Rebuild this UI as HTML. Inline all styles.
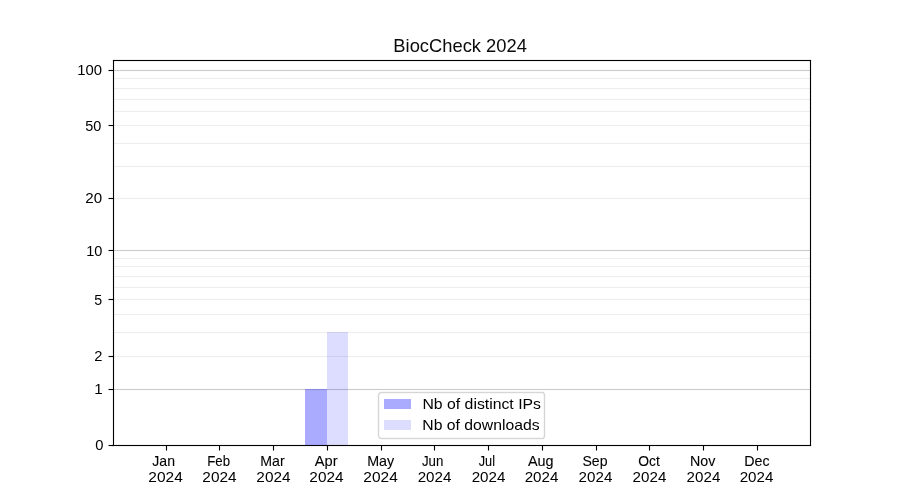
<!DOCTYPE html>
<html><head><meta charset="utf-8"><title>BiocCheck 2024</title><style>
html,body{margin:0;padding:0;background:#fff;}
#c{position:relative;width:900px;height:500px;overflow:hidden;background:#fff;}
#c div{position:absolute;}
svg{position:absolute;left:0;top:0;will-change:transform;}
text{font-family:"Liberation Sans",sans-serif;}
</style></head><body><div id="c">
<div style="left:114px;top:78px;width:696px;height:1px;background:rgb(238,238,238)"></div>
<div style="left:114px;top:77px;width:696px;height:1px;background:rgb(254,254,254)"></div>
<div style="left:114px;top:79px;width:696px;height:1px;background:rgb(254,254,254)"></div>
<div style="left:114px;top:88px;width:696px;height:1px;background:rgb(238,238,238)"></div>
<div style="left:114px;top:87px;width:696px;height:1px;background:rgb(254,254,254)"></div>
<div style="left:114px;top:89px;width:696px;height:1px;background:rgb(254,254,254)"></div>
<div style="left:114px;top:99px;width:696px;height:1px;background:rgb(238,238,238)"></div>
<div style="left:114px;top:98px;width:696px;height:1px;background:rgb(254,254,254)"></div>
<div style="left:114px;top:100px;width:696px;height:1px;background:rgb(254,254,254)"></div>
<div style="left:114px;top:111px;width:696px;height:1px;background:rgb(238,238,238)"></div>
<div style="left:114px;top:110px;width:696px;height:1px;background:rgb(254,254,254)"></div>
<div style="left:114px;top:112px;width:696px;height:1px;background:rgb(254,254,254)"></div>
<div style="left:114px;top:125px;width:696px;height:1px;background:rgb(238,238,238)"></div>
<div style="left:114px;top:124px;width:696px;height:1px;background:rgb(254,254,254)"></div>
<div style="left:114px;top:126px;width:696px;height:1px;background:rgb(254,254,254)"></div>
<div style="left:114px;top:143px;width:696px;height:1px;background:rgb(238,238,238)"></div>
<div style="left:114px;top:142px;width:696px;height:1px;background:rgb(254,254,254)"></div>
<div style="left:114px;top:144px;width:696px;height:1px;background:rgb(254,254,254)"></div>
<div style="left:114px;top:166px;width:696px;height:1px;background:rgb(238,238,238)"></div>
<div style="left:114px;top:165px;width:696px;height:1px;background:rgb(254,254,254)"></div>
<div style="left:114px;top:167px;width:696px;height:1px;background:rgb(254,254,254)"></div>
<div style="left:114px;top:198px;width:696px;height:1px;background:rgb(238,238,238)"></div>
<div style="left:114px;top:197px;width:696px;height:1px;background:rgb(254,254,254)"></div>
<div style="left:114px;top:199px;width:696px;height:1px;background:rgb(254,254,254)"></div>
<div style="left:114px;top:258px;width:696px;height:1px;background:rgb(238,238,238)"></div>
<div style="left:114px;top:257px;width:696px;height:1px;background:rgb(254,254,254)"></div>
<div style="left:114px;top:259px;width:696px;height:1px;background:rgb(254,254,254)"></div>
<div style="left:114px;top:266px;width:696px;height:1px;background:rgb(238,238,238)"></div>
<div style="left:114px;top:265px;width:696px;height:1px;background:rgb(254,254,254)"></div>
<div style="left:114px;top:267px;width:696px;height:1px;background:rgb(254,254,254)"></div>
<div style="left:114px;top:276px;width:696px;height:1px;background:rgb(238,238,238)"></div>
<div style="left:114px;top:275px;width:696px;height:1px;background:rgb(254,254,254)"></div>
<div style="left:114px;top:277px;width:696px;height:1px;background:rgb(254,254,254)"></div>
<div style="left:114px;top:287px;width:696px;height:1px;background:rgb(238,238,238)"></div>
<div style="left:114px;top:286px;width:696px;height:1px;background:rgb(254,254,254)"></div>
<div style="left:114px;top:288px;width:696px;height:1px;background:rgb(254,254,254)"></div>
<div style="left:114px;top:299px;width:696px;height:1px;background:rgb(238,238,238)"></div>
<div style="left:114px;top:298px;width:696px;height:1px;background:rgb(254,254,254)"></div>
<div style="left:114px;top:300px;width:696px;height:1px;background:rgb(254,254,254)"></div>
<div style="left:114px;top:314px;width:696px;height:1px;background:rgb(238,238,238)"></div>
<div style="left:114px;top:313px;width:696px;height:1px;background:rgb(254,254,254)"></div>
<div style="left:114px;top:315px;width:696px;height:1px;background:rgb(254,254,254)"></div>
<div style="left:114px;top:332px;width:696px;height:1px;background:rgb(238,238,238)"></div>
<div style="left:114px;top:331px;width:696px;height:1px;background:rgb(254,254,254)"></div>
<div style="left:114px;top:333px;width:696px;height:1px;background:rgb(254,254,254)"></div>
<div style="left:114px;top:356px;width:696px;height:1px;background:rgb(238,238,238)"></div>
<div style="left:114px;top:355px;width:696px;height:1px;background:rgb(254,254,254)"></div>
<div style="left:114px;top:357px;width:696px;height:1px;background:rgb(254,254,254)"></div>
<div style="left:114px;top:70px;width:696px;height:1px;background:rgb(204,204,204)"></div>
<div style="left:114px;top:69px;width:696px;height:1px;background:rgb(252,252,252)"></div>
<div style="left:114px;top:71px;width:696px;height:1px;background:rgb(252,252,252)"></div>
<div style="left:114px;top:250px;width:696px;height:1px;background:rgb(204,204,204)"></div>
<div style="left:114px;top:249px;width:696px;height:1px;background:rgb(252,252,252)"></div>
<div style="left:114px;top:251px;width:696px;height:1px;background:rgb(252,252,252)"></div>
<div style="left:114px;top:389px;width:696px;height:1px;background:rgb(204,204,204)"></div>
<div style="left:114px;top:388px;width:696px;height:1px;background:rgb(252,252,252)"></div>
<div style="left:114px;top:390px;width:696px;height:1px;background:rgb(252,252,252)"></div>
<div style="left:305px;top:389px;width:22px;height:56px;background:rgba(0,0,255,0.3333)"></div>
<div style="left:327px;top:332px;width:21px;height:113px;background:rgba(0,0,255,0.1333)"></div>
<div style="left:113px;top:60px;width:1px;height:386px;background:#000"></div>
<div style="left:112px;top:61px;width:1px;height:384px;background:rgba(0,0,0,0.055)"></div>
<div style="left:114px;top:61px;width:1px;height:384px;background:rgba(0,0,0,0.055)"></div>
<div style="left:810px;top:60px;width:1px;height:386px;background:#000"></div>
<div style="left:809px;top:61px;width:1px;height:384px;background:rgba(0,0,0,0.055)"></div>
<div style="left:811px;top:61px;width:1px;height:384px;background:rgba(0,0,0,0.055)"></div>
<div style="left:113px;top:60px;width:698px;height:1px;background:#000"></div>
<div style="left:114px;top:59px;width:696px;height:1px;background:rgba(0,0,0,0.055)"></div>
<div style="left:114px;top:61px;width:696px;height:1px;background:rgba(0,0,0,0.055)"></div>
<div style="left:113px;top:445px;width:698px;height:1px;background:#000"></div>
<div style="left:114px;top:444px;width:696px;height:1px;background:rgba(0,0,0,0.055)"></div>
<div style="left:114px;top:446px;width:696px;height:1px;background:rgba(0,0,0,0.055)"></div>
<div style="left:112px;top:59px;width:1px;height:1px;background:rgb(253,253,253)"></div>
<div style="left:113px;top:59px;width:1px;height:1px;background:rgb(227,227,227)"></div>
<div style="left:114px;top:59px;width:1px;height:1px;background:rgb(240,240,240)"></div>
<div style="left:112px;top:60px;width:1px;height:1px;background:rgb(227,227,227)"></div>
<div style="left:112px;top:61px;width:1px;height:1px;background:rgb(240,240,240)"></div>
<div style="left:114px;top:61px;width:1px;height:1px;background:rgb(227,227,227)"></div>
<div style="left:809px;top:59px;width:1px;height:1px;background:rgb(240,240,240)"></div>
<div style="left:810px;top:59px;width:1px;height:1px;background:rgb(227,227,227)"></div>
<div style="left:811px;top:59px;width:1px;height:1px;background:rgb(253,253,253)"></div>
<div style="left:811px;top:60px;width:1px;height:1px;background:rgb(227,227,227)"></div>
<div style="left:809px;top:61px;width:1px;height:1px;background:rgb(227,227,227)"></div>
<div style="left:811px;top:61px;width:1px;height:1px;background:rgb(240,240,240)"></div>
<div style="left:112px;top:444px;width:1px;height:1px;background:rgb(226,226,226)"></div>
<div style="left:114px;top:444px;width:1px;height:1px;background:rgb(227,227,227)"></div>
<div style="left:112px;top:446px;width:1px;height:1px;background:rgb(239,239,239)"></div>
<div style="left:113px;top:446px;width:1px;height:1px;background:rgb(221,221,221)"></div>
<div style="left:114px;top:446px;width:1px;height:1px;background:rgb(240,240,240)"></div>
<div style="left:809px;top:444px;width:1px;height:1px;background:rgb(227,227,227)"></div>
<div style="left:811px;top:444px;width:1px;height:1px;background:rgb(240,240,240)"></div>
<div style="left:811px;top:445px;width:1px;height:1px;background:rgb(227,227,227)"></div>
<div style="left:809px;top:446px;width:1px;height:1px;background:rgb(240,240,240)"></div>
<div style="left:810px;top:446px;width:1px;height:1px;background:rgb(227,227,227)"></div>
<div style="left:811px;top:446px;width:1px;height:1px;background:rgb(253,253,253)"></div>
<div style="left:109px;top:445px;width:4px;height:1px;background:#000"></div>
<div style="left:108px;top:445px;width:1px;height:1px;background:rgb(127,127,127)"></div>
<div style="left:108px;top:444px;width:1px;height:1px;background:rgb(248,248,248)"></div>
<div style="left:108px;top:446px;width:1px;height:1px;background:rgb(248,248,248)"></div>
<div style="left:109px;top:444px;width:4px;height:1px;background:rgba(0,0,0,0.055)"></div>
<div style="left:109px;top:446px;width:4px;height:1px;background:rgba(0,0,0,0.055)"></div>
<div style="left:109px;top:389px;width:4px;height:1px;background:#000"></div>
<div style="left:108px;top:389px;width:1px;height:1px;background:rgb(127,127,127)"></div>
<div style="left:108px;top:388px;width:1px;height:1px;background:rgb(248,248,248)"></div>
<div style="left:108px;top:390px;width:1px;height:1px;background:rgb(248,248,248)"></div>
<div style="left:109px;top:388px;width:4px;height:1px;background:rgba(0,0,0,0.055)"></div>
<div style="left:109px;top:390px;width:4px;height:1px;background:rgba(0,0,0,0.055)"></div>
<div style="left:109px;top:356px;width:4px;height:1px;background:#000"></div>
<div style="left:108px;top:356px;width:1px;height:1px;background:rgb(127,127,127)"></div>
<div style="left:108px;top:355px;width:1px;height:1px;background:rgb(248,248,248)"></div>
<div style="left:108px;top:357px;width:1px;height:1px;background:rgb(248,248,248)"></div>
<div style="left:109px;top:355px;width:4px;height:1px;background:rgba(0,0,0,0.055)"></div>
<div style="left:109px;top:357px;width:4px;height:1px;background:rgba(0,0,0,0.055)"></div>
<div style="left:109px;top:299px;width:4px;height:1px;background:#000"></div>
<div style="left:108px;top:299px;width:1px;height:1px;background:rgb(127,127,127)"></div>
<div style="left:108px;top:298px;width:1px;height:1px;background:rgb(248,248,248)"></div>
<div style="left:108px;top:300px;width:1px;height:1px;background:rgb(248,248,248)"></div>
<div style="left:109px;top:298px;width:4px;height:1px;background:rgba(0,0,0,0.055)"></div>
<div style="left:109px;top:300px;width:4px;height:1px;background:rgba(0,0,0,0.055)"></div>
<div style="left:109px;top:250px;width:4px;height:1px;background:#000"></div>
<div style="left:108px;top:250px;width:1px;height:1px;background:rgb(127,127,127)"></div>
<div style="left:108px;top:249px;width:1px;height:1px;background:rgb(248,248,248)"></div>
<div style="left:108px;top:251px;width:1px;height:1px;background:rgb(248,248,248)"></div>
<div style="left:109px;top:249px;width:4px;height:1px;background:rgba(0,0,0,0.055)"></div>
<div style="left:109px;top:251px;width:4px;height:1px;background:rgba(0,0,0,0.055)"></div>
<div style="left:109px;top:198px;width:4px;height:1px;background:#000"></div>
<div style="left:108px;top:198px;width:1px;height:1px;background:rgb(127,127,127)"></div>
<div style="left:108px;top:197px;width:1px;height:1px;background:rgb(248,248,248)"></div>
<div style="left:108px;top:199px;width:1px;height:1px;background:rgb(248,248,248)"></div>
<div style="left:109px;top:197px;width:4px;height:1px;background:rgba(0,0,0,0.055)"></div>
<div style="left:109px;top:199px;width:4px;height:1px;background:rgba(0,0,0,0.055)"></div>
<div style="left:109px;top:125px;width:4px;height:1px;background:#000"></div>
<div style="left:108px;top:125px;width:1px;height:1px;background:rgb(127,127,127)"></div>
<div style="left:108px;top:124px;width:1px;height:1px;background:rgb(248,248,248)"></div>
<div style="left:108px;top:126px;width:1px;height:1px;background:rgb(248,248,248)"></div>
<div style="left:109px;top:124px;width:4px;height:1px;background:rgba(0,0,0,0.055)"></div>
<div style="left:109px;top:126px;width:4px;height:1px;background:rgba(0,0,0,0.055)"></div>
<div style="left:109px;top:70px;width:4px;height:1px;background:#000"></div>
<div style="left:108px;top:70px;width:1px;height:1px;background:rgb(127,127,127)"></div>
<div style="left:108px;top:69px;width:1px;height:1px;background:rgb(248,248,248)"></div>
<div style="left:108px;top:71px;width:1px;height:1px;background:rgb(248,248,248)"></div>
<div style="left:109px;top:69px;width:4px;height:1px;background:rgba(0,0,0,0.055)"></div>
<div style="left:109px;top:71px;width:4px;height:1px;background:rgba(0,0,0,0.055)"></div>
<div style="left:166px;top:446px;width:1px;height:4px;background:#000"></div>
<div style="left:166px;top:450px;width:1px;height:1px;background:rgb(127,127,127)"></div>
<div style="left:165px;top:450px;width:1px;height:1px;background:rgb(248,248,248)"></div>
<div style="left:167px;top:450px;width:1px;height:1px;background:rgb(248,248,248)"></div>
<div style="left:165px;top:446px;width:1px;height:4px;background:rgba(0,0,0,0.055)"></div>
<div style="left:167px;top:446px;width:1px;height:4px;background:rgba(0,0,0,0.055)"></div>
<div style="left:219px;top:446px;width:1px;height:4px;background:#000"></div>
<div style="left:219px;top:450px;width:1px;height:1px;background:rgb(127,127,127)"></div>
<div style="left:218px;top:450px;width:1px;height:1px;background:rgb(248,248,248)"></div>
<div style="left:220px;top:450px;width:1px;height:1px;background:rgb(248,248,248)"></div>
<div style="left:218px;top:446px;width:1px;height:4px;background:rgba(0,0,0,0.055)"></div>
<div style="left:220px;top:446px;width:1px;height:4px;background:rgba(0,0,0,0.055)"></div>
<div style="left:273px;top:446px;width:1px;height:4px;background:#000"></div>
<div style="left:273px;top:450px;width:1px;height:1px;background:rgb(127,127,127)"></div>
<div style="left:272px;top:450px;width:1px;height:1px;background:rgb(248,248,248)"></div>
<div style="left:274px;top:450px;width:1px;height:1px;background:rgb(248,248,248)"></div>
<div style="left:272px;top:446px;width:1px;height:4px;background:rgba(0,0,0,0.055)"></div>
<div style="left:274px;top:446px;width:1px;height:4px;background:rgba(0,0,0,0.055)"></div>
<div style="left:327px;top:446px;width:1px;height:4px;background:#000"></div>
<div style="left:327px;top:450px;width:1px;height:1px;background:rgb(127,127,127)"></div>
<div style="left:326px;top:450px;width:1px;height:1px;background:rgb(248,248,248)"></div>
<div style="left:328px;top:450px;width:1px;height:1px;background:rgb(248,248,248)"></div>
<div style="left:326px;top:446px;width:1px;height:4px;background:rgba(0,0,0,0.055)"></div>
<div style="left:328px;top:446px;width:1px;height:4px;background:rgba(0,0,0,0.055)"></div>
<div style="left:381px;top:446px;width:1px;height:4px;background:#000"></div>
<div style="left:381px;top:450px;width:1px;height:1px;background:rgb(127,127,127)"></div>
<div style="left:380px;top:450px;width:1px;height:1px;background:rgb(248,248,248)"></div>
<div style="left:382px;top:450px;width:1px;height:1px;background:rgb(248,248,248)"></div>
<div style="left:380px;top:446px;width:1px;height:4px;background:rgba(0,0,0,0.055)"></div>
<div style="left:382px;top:446px;width:1px;height:4px;background:rgba(0,0,0,0.055)"></div>
<div style="left:434px;top:446px;width:1px;height:4px;background:#000"></div>
<div style="left:434px;top:450px;width:1px;height:1px;background:rgb(127,127,127)"></div>
<div style="left:433px;top:450px;width:1px;height:1px;background:rgb(248,248,248)"></div>
<div style="left:435px;top:450px;width:1px;height:1px;background:rgb(248,248,248)"></div>
<div style="left:433px;top:446px;width:1px;height:4px;background:rgba(0,0,0,0.055)"></div>
<div style="left:435px;top:446px;width:1px;height:4px;background:rgba(0,0,0,0.055)"></div>
<div style="left:488px;top:446px;width:1px;height:4px;background:#000"></div>
<div style="left:488px;top:450px;width:1px;height:1px;background:rgb(127,127,127)"></div>
<div style="left:487px;top:450px;width:1px;height:1px;background:rgb(248,248,248)"></div>
<div style="left:489px;top:450px;width:1px;height:1px;background:rgb(248,248,248)"></div>
<div style="left:487px;top:446px;width:1px;height:4px;background:rgba(0,0,0,0.055)"></div>
<div style="left:489px;top:446px;width:1px;height:4px;background:rgba(0,0,0,0.055)"></div>
<div style="left:542px;top:446px;width:1px;height:4px;background:#000"></div>
<div style="left:542px;top:450px;width:1px;height:1px;background:rgb(127,127,127)"></div>
<div style="left:541px;top:450px;width:1px;height:1px;background:rgb(248,248,248)"></div>
<div style="left:543px;top:450px;width:1px;height:1px;background:rgb(248,248,248)"></div>
<div style="left:541px;top:446px;width:1px;height:4px;background:rgba(0,0,0,0.055)"></div>
<div style="left:543px;top:446px;width:1px;height:4px;background:rgba(0,0,0,0.055)"></div>
<div style="left:596px;top:446px;width:1px;height:4px;background:#000"></div>
<div style="left:596px;top:450px;width:1px;height:1px;background:rgb(127,127,127)"></div>
<div style="left:595px;top:450px;width:1px;height:1px;background:rgb(248,248,248)"></div>
<div style="left:597px;top:450px;width:1px;height:1px;background:rgb(248,248,248)"></div>
<div style="left:595px;top:446px;width:1px;height:4px;background:rgba(0,0,0,0.055)"></div>
<div style="left:597px;top:446px;width:1px;height:4px;background:rgba(0,0,0,0.055)"></div>
<div style="left:649px;top:446px;width:1px;height:4px;background:#000"></div>
<div style="left:649px;top:450px;width:1px;height:1px;background:rgb(127,127,127)"></div>
<div style="left:648px;top:450px;width:1px;height:1px;background:rgb(248,248,248)"></div>
<div style="left:650px;top:450px;width:1px;height:1px;background:rgb(248,248,248)"></div>
<div style="left:648px;top:446px;width:1px;height:4px;background:rgba(0,0,0,0.055)"></div>
<div style="left:650px;top:446px;width:1px;height:4px;background:rgba(0,0,0,0.055)"></div>
<div style="left:703px;top:446px;width:1px;height:4px;background:#000"></div>
<div style="left:703px;top:450px;width:1px;height:1px;background:rgb(127,127,127)"></div>
<div style="left:702px;top:450px;width:1px;height:1px;background:rgb(248,248,248)"></div>
<div style="left:704px;top:450px;width:1px;height:1px;background:rgb(248,248,248)"></div>
<div style="left:702px;top:446px;width:1px;height:4px;background:rgba(0,0,0,0.055)"></div>
<div style="left:704px;top:446px;width:1px;height:4px;background:rgba(0,0,0,0.055)"></div>
<div style="left:757px;top:446px;width:1px;height:4px;background:#000"></div>
<div style="left:757px;top:450px;width:1px;height:1px;background:rgb(127,127,127)"></div>
<div style="left:756px;top:450px;width:1px;height:1px;background:rgb(248,248,248)"></div>
<div style="left:758px;top:450px;width:1px;height:1px;background:rgb(248,248,248)"></div>
<div style="left:756px;top:446px;width:1px;height:4px;background:rgba(0,0,0,0.055)"></div>
<div style="left:758px;top:446px;width:1px;height:4px;background:rgba(0,0,0,0.055)"></div>
<div style="left:379px;top:393px;width:165px;height:45px;background:rgba(255,255,255,0.8)"></div>
<div style="left:382px;top:392px;width:160px;height:1px;background:rgb(214,214,214)"></div>
<div style="left:382px;top:391px;width:160px;height:1px;background:rgb(247,247,247)"></div>
<div style="left:382px;top:393px;width:160px;height:1px;background:rgb(247,247,247)"></div>
<div style="left:382px;top:438px;width:160px;height:1px;background:rgb(214,214,214)"></div>
<div style="left:382px;top:437px;width:160px;height:1px;background:rgb(247,247,247)"></div>
<div style="left:382px;top:439px;width:160px;height:1px;background:rgb(247,247,247)"></div>
<div style="left:378px;top:396px;width:1px;height:39px;background:rgb(214,214,214)"></div>
<div style="left:377px;top:396px;width:1px;height:39px;background:rgb(247,247,247)"></div>
<div style="left:379px;top:396px;width:1px;height:39px;background:rgb(247,247,247)"></div>
<div style="left:544px;top:396px;width:1px;height:39px;background:rgb(214,214,214)"></div>
<div style="left:543px;top:396px;width:1px;height:39px;background:rgb(247,247,247)"></div>
<div style="left:545px;top:396px;width:1px;height:39px;background:rgb(247,247,247)"></div>
<div style="left:380px;top:391px;width:1px;height:1px;background:rgb(252,252,252)"></div>
<div style="left:381px;top:391px;width:1px;height:1px;background:rgb(247,247,247)"></div>
<div style="left:378px;top:392px;width:1px;height:1px;background:rgb(254,254,254)"></div>
<div style="left:379px;top:392px;width:1px;height:1px;background:rgb(230,230,230)"></div>
<div style="left:380px;top:392px;width:1px;height:1px;background:rgb(214,214,214)"></div>
<div style="left:381px;top:392px;width:1px;height:1px;background:rgb(214,214,214)"></div>
<div style="left:378px;top:393px;width:1px;height:1px;background:rgb(230,230,230)"></div>
<div style="left:379px;top:393px;width:1px;height:1px;background:rgb(214,214,214)"></div>
<div style="left:380px;top:393px;width:1px;height:1px;background:rgb(236,236,236)"></div>
<div style="left:381px;top:393px;width:1px;height:1px;background:rgb(246,246,246)"></div>
<div style="left:377px;top:394px;width:1px;height:1px;background:rgb(252,252,252)"></div>
<div style="left:378px;top:394px;width:1px;height:1px;background:rgb(214,214,214)"></div>
<div style="left:379px;top:394px;width:1px;height:1px;background:rgb(236,236,236)"></div>
<div style="left:377px;top:395px;width:1px;height:1px;background:rgb(247,247,247)"></div>
<div style="left:378px;top:395px;width:1px;height:1px;background:rgb(214,214,214)"></div>
<div style="left:379px;top:395px;width:1px;height:1px;background:rgb(246,246,246)"></div>
<div style="left:542px;top:391px;width:1px;height:1px;background:rgb(247,247,247)"></div>
<div style="left:543px;top:391px;width:1px;height:1px;background:rgb(253,253,253)"></div>
<div style="left:542px;top:392px;width:1px;height:1px;background:rgb(214,214,214)"></div>
<div style="left:543px;top:392px;width:1px;height:1px;background:rgb(216,216,216)"></div>
<div style="left:544px;top:392px;width:1px;height:1px;background:rgb(249,249,249)"></div>
<div style="left:542px;top:393px;width:1px;height:1px;background:rgb(245,245,245)"></div>
<div style="left:543px;top:393px;width:1px;height:1px;background:rgb(219,219,219)"></div>
<div style="left:544px;top:393px;width:1px;height:1px;background:rgb(224,224,224)"></div>
<div style="left:545px;top:393px;width:1px;height:1px;background:rgb(254,254,254)"></div>
<div style="left:543px;top:394px;width:1px;height:1px;background:rgb(240,240,240)"></div>
<div style="left:544px;top:394px;width:1px;height:1px;background:rgb(214,214,214)"></div>
<div style="left:545px;top:394px;width:1px;height:1px;background:rgb(250,250,250)"></div>
<div style="left:543px;top:395px;width:1px;height:1px;background:rgb(246,246,246)"></div>
<div style="left:544px;top:395px;width:1px;height:1px;background:rgb(214,214,214)"></div>
<div style="left:545px;top:395px;width:1px;height:1px;background:rgb(247,247,247)"></div>
<div style="left:377px;top:435px;width:1px;height:1px;background:rgb(247,247,247)"></div>
<div style="left:378px;top:435px;width:1px;height:1px;background:rgb(214,214,214)"></div>
<div style="left:379px;top:435px;width:1px;height:1px;background:rgb(246,246,246)"></div>
<div style="left:377px;top:436px;width:1px;height:1px;background:rgb(252,252,252)"></div>
<div style="left:378px;top:436px;width:1px;height:1px;background:rgb(214,214,214)"></div>
<div style="left:379px;top:436px;width:1px;height:1px;background:rgb(236,236,236)"></div>
<div style="left:378px;top:437px;width:1px;height:1px;background:rgb(230,230,230)"></div>
<div style="left:379px;top:437px;width:1px;height:1px;background:rgb(214,214,214)"></div>
<div style="left:380px;top:437px;width:1px;height:1px;background:rgb(236,236,236)"></div>
<div style="left:381px;top:437px;width:1px;height:1px;background:rgb(246,246,246)"></div>
<div style="left:378px;top:438px;width:1px;height:1px;background:rgb(254,254,254)"></div>
<div style="left:379px;top:438px;width:1px;height:1px;background:rgb(230,230,230)"></div>
<div style="left:380px;top:438px;width:1px;height:1px;background:rgb(214,214,214)"></div>
<div style="left:381px;top:438px;width:1px;height:1px;background:rgb(214,214,214)"></div>
<div style="left:380px;top:439px;width:1px;height:1px;background:rgb(252,252,252)"></div>
<div style="left:381px;top:439px;width:1px;height:1px;background:rgb(247,247,247)"></div>
<div style="left:543px;top:435px;width:1px;height:1px;background:rgb(246,246,246)"></div>
<div style="left:544px;top:435px;width:1px;height:1px;background:rgb(214,214,214)"></div>
<div style="left:545px;top:435px;width:1px;height:1px;background:rgb(247,247,247)"></div>
<div style="left:543px;top:436px;width:1px;height:1px;background:rgb(240,240,240)"></div>
<div style="left:544px;top:436px;width:1px;height:1px;background:rgb(214,214,214)"></div>
<div style="left:545px;top:436px;width:1px;height:1px;background:rgb(250,250,250)"></div>
<div style="left:542px;top:437px;width:1px;height:1px;background:rgb(245,245,245)"></div>
<div style="left:543px;top:437px;width:1px;height:1px;background:rgb(219,219,219)"></div>
<div style="left:544px;top:437px;width:1px;height:1px;background:rgb(224,224,224)"></div>
<div style="left:545px;top:437px;width:1px;height:1px;background:rgb(254,254,254)"></div>
<div style="left:542px;top:438px;width:1px;height:1px;background:rgb(214,214,214)"></div>
<div style="left:543px;top:438px;width:1px;height:1px;background:rgb(216,216,216)"></div>
<div style="left:544px;top:438px;width:1px;height:1px;background:rgb(249,249,249)"></div>
<div style="left:542px;top:439px;width:1px;height:1px;background:rgb(247,247,247)"></div>
<div style="left:543px;top:439px;width:1px;height:1px;background:rgb(253,253,253)"></div>
<div style="left:384px;top:399px;width:27px;height:10px;background:rgba(0,0,255,0.3333)"></div>
<div style="left:384px;top:420px;width:27px;height:10px;background:rgba(0,0,255,0.1333)"></div>
<svg width="900" height="500" viewBox="0 0 900 500">
<text x="393.35" y="51.50" font-size="18.40" textLength="133.55" lengthAdjust="spacingAndGlyphs" fill="rgb(10,10,10)">BiocCheck 2024</text>
<text x="152.35" y="466.00" font-size="15.00" textLength="22.65" lengthAdjust="spacingAndGlyphs" stroke="rgb(0,0,0)" stroke-width="0.100">Jan</text>
<text x="148.30" y="482.00" font-size="14.50" textLength="34.45" lengthAdjust="spacingAndGlyphs">2024</text>
<text x="207.22" y="466.00" font-size="15.00" textLength="22.80" lengthAdjust="spacingAndGlyphs" stroke="rgb(0,0,0)" stroke-width="0.100">Feb</text>
<text x="202.36" y="482.00" font-size="14.50" textLength="34.20" lengthAdjust="spacingAndGlyphs">2024</text>
<text x="260.25" y="466.00" font-size="15.00" textLength="24.35" lengthAdjust="spacingAndGlyphs" stroke="rgb(0,0,0)" stroke-width="0.100">Mar</text>
<text x="256.34" y="482.00" font-size="14.50" textLength="34.20" lengthAdjust="spacingAndGlyphs">2024</text>
<text x="314.81" y="466.00" font-size="15.00" textLength="22.75" lengthAdjust="spacingAndGlyphs" stroke="rgb(0,0,0)" stroke-width="0.100">Apr</text>
<text x="309.38" y="482.00" font-size="14.50" textLength="34.20" lengthAdjust="spacingAndGlyphs">2024</text>
<text x="367.15" y="466.00" font-size="15.00" textLength="27.00" lengthAdjust="spacingAndGlyphs" stroke="rgb(0,0,0)" stroke-width="0.100">May</text>
<text x="363.37" y="482.00" font-size="14.50" textLength="34.45" lengthAdjust="spacingAndGlyphs">2024</text>
<text x="421.98" y="466.00" font-size="15.00" textLength="21.40" lengthAdjust="spacingAndGlyphs" stroke="rgb(0,0,0)" stroke-width="0.100">Jun</text>
<text x="417.68" y="482.00" font-size="14.50" textLength="33.70" lengthAdjust="spacingAndGlyphs">2024</text>
<text x="478.69" y="466.25" font-size="15.00" textLength="16.30" lengthAdjust="spacingAndGlyphs" stroke="rgb(0,0,0)" stroke-width="0.100">Jul</text>
<text x="471.67" y="481.75" font-size="14.50" textLength="33.70" lengthAdjust="spacingAndGlyphs">2024</text>
<text x="527.98" y="466.00" font-size="15.00" textLength="25.60" lengthAdjust="spacingAndGlyphs" stroke="rgb(0,0,0)" stroke-width="0.100">Aug</text>
<text x="524.70" y="482.00" font-size="14.50" textLength="33.70" lengthAdjust="spacingAndGlyphs">2024</text>
<text x="582.49" y="466.00" font-size="15.00" textLength="25.00" lengthAdjust="spacingAndGlyphs" stroke="rgb(0,0,0)" stroke-width="0.100">Sep</text>
<text x="578.64" y="482.00" font-size="14.50" textLength="33.70" lengthAdjust="spacingAndGlyphs">2024</text>
<text x="638.25" y="466.00" font-size="15.00" textLength="21.60" lengthAdjust="spacingAndGlyphs" stroke="rgb(0,0,0)" stroke-width="0.100">Oct</text>
<text x="632.63" y="482.00" font-size="14.50" textLength="33.70" lengthAdjust="spacingAndGlyphs">2024</text>
<text x="690.01" y="466.00" font-size="15.00" textLength="25.35" lengthAdjust="spacingAndGlyphs" stroke="rgb(0,0,0)" stroke-width="0.100">Nov</text>
<text x="686.61" y="482.00" font-size="14.50" textLength="33.70" lengthAdjust="spacingAndGlyphs">2024</text>
<text x="744.25" y="466.00" font-size="15.00" textLength="25.35" lengthAdjust="spacingAndGlyphs" stroke="rgb(0,0,0)" stroke-width="0.100">Dec</text>
<text x="739.65" y="482.00" font-size="14.50" textLength="33.70" lengthAdjust="spacingAndGlyphs">2024</text>
<text x="95.15" y="450.00" font-size="14.20" textLength="8.20" lengthAdjust="spacingAndGlyphs">0</text>
<text x="94.20" y="394.00" font-size="14.20" textLength="8.45" lengthAdjust="spacingAndGlyphs">1</text>
<text x="94.25" y="361.00" font-size="14.20" textLength="8.15" lengthAdjust="spacingAndGlyphs">2</text>
<text x="94.25" y="305.00" font-size="14.20" textLength="7.90" lengthAdjust="spacingAndGlyphs">5</text>
<text x="86.20" y="256.00" font-size="14.20" textLength="16.15" lengthAdjust="spacingAndGlyphs">10</text>
<text x="85.30" y="203.00" font-size="14.20" textLength="16.80" lengthAdjust="spacingAndGlyphs">20</text>
<text x="85.30" y="131.00" font-size="14.20" textLength="16.10" lengthAdjust="spacingAndGlyphs">50</text>
<text x="77.37" y="75.00" font-size="14.20" textLength="24.75" lengthAdjust="spacingAndGlyphs">100</text>
<text x="422.47" y="409.00" font-size="14.30" textLength="118.50" lengthAdjust="spacingAndGlyphs">Nb of distinct IPs</text>
<text x="422.31" y="430.00" font-size="14.30" textLength="117.35" lengthAdjust="spacingAndGlyphs">Nb of downloads</text>
</svg></div></body></html>
